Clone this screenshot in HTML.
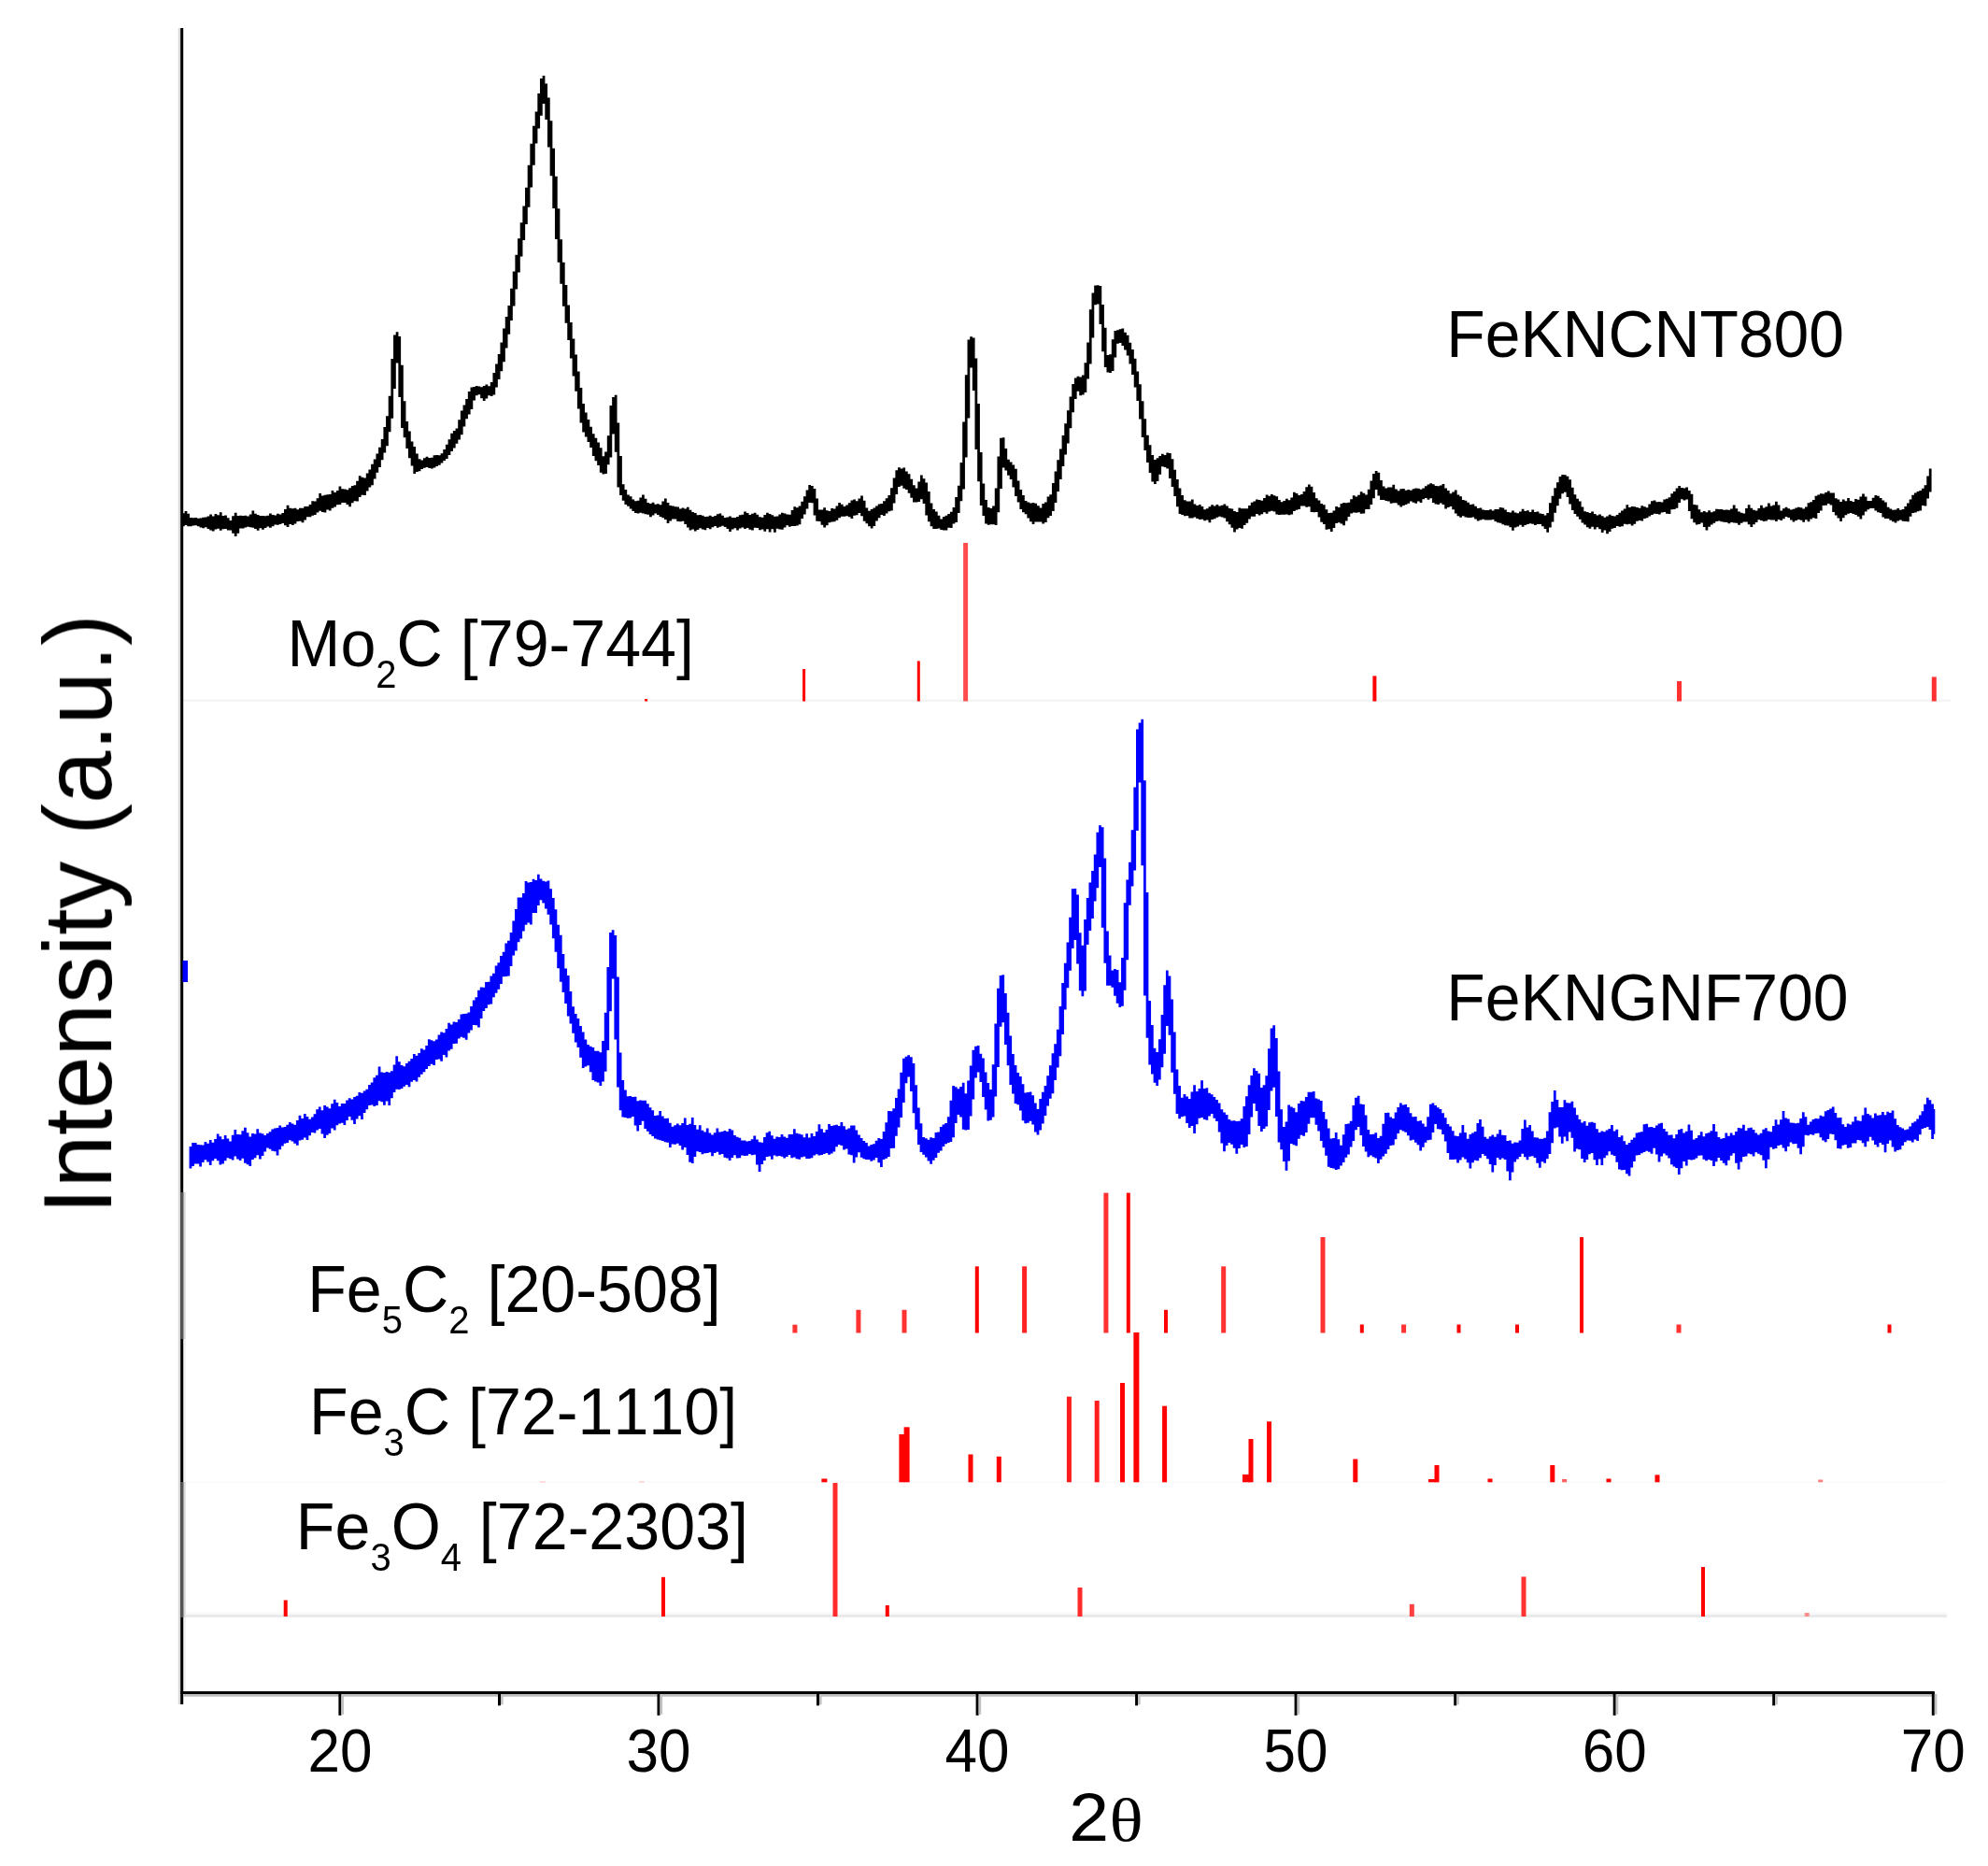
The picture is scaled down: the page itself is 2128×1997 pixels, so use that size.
<!DOCTYPE html>
<html lang="en">
<head>
<meta charset="utf-8">
<title>XRD patterns</title>
<style>
html,body{margin:0;padding:0;background:#ffffff;}
svg{display:block;}
text{font-family:'Liberation Sans', Arial, Helvetica, sans-serif;fill:#000;font-kerning:none;font-feature-settings:'kern' 0,'liga' 0;}
.ser{font-family:'Liberation Serif', 'Times New Roman', Times, serif;}
</style>
</head>
<body>
<svg width="2128" height="1997" viewBox="0 0 2128 1997">
<defs><filter id="soft" x="0" y="0" width="2128" height="1997" filterUnits="userSpaceOnUse"><feGaussianBlur stdDeviation="0.7"/></filter></defs>
<rect x="0" y="0" width="2128" height="1997" fill="#ffffff"/>
<g filter="url(#soft)">

<!-- faint baselines of the reference-pattern panels -->
<rect x="196" y="748.5" width="1892" height="2.5" fill="#f4f4f4"/>
<rect x="196" y="1725.5" width="1888" height="2.5" fill="#f8f8f8"/>
<rect x="196" y="1728" width="1888" height="3" fill="#eaeaea"/>
<rect x="196" y="1585" width="1888" height="2" fill="#fbfbfb"/>
<rect x="578" y="1585" width="6" height="2" fill="#ffdcdc"/>
<rect x="684" y="1585" width="6" height="2" fill="#ffdcdc"/>

<!-- reference sticks -->
<g>
<rect x="690.1" y="748.0" width="3" height="2.5" fill="#ff0000"/>
<rect x="859.1" y="716.0" width="3" height="34.5" fill="#ff0000"/>
<rect x="981.8" y="707.4" width="3" height="43.1" fill="#ff0000"/>
<rect x="1031.1" y="581.0" width="5" height="169.5" fill="#ff4d4d"/>
<rect x="1469.4" y="723.4" width="4" height="27.1" fill="#ff0000"/>
<rect x="1795.0" y="729.0" width="5" height="21.5" fill="#ff3030"/>
<rect x="2067.8" y="724.4" width="5" height="26.1" fill="#ff3030"/>
<rect x="848.4" y="1417.7" width="5" height="8.8" fill="#ff3030"/>
<rect x="916.4" y="1401.8" width="5" height="24.7" fill="#ff3030"/>
<rect x="965.5" y="1401.8" width="5" height="24.7" fill="#ff3030"/>
<rect x="1043.8" y="1355.3" width="4" height="71.2" fill="#ff0000"/>
<rect x="1094.1" y="1355.3" width="5" height="71.2" fill="#ff2020"/>
<rect x="1181.4" y="1276.6" width="5" height="149.9" fill="#ff3030"/>
<rect x="1205.8" y="1276.6" width="4" height="149.9" fill="#ff0000"/>
<rect x="1246.0" y="1401.8" width="4" height="24.7" fill="#ff0000"/>
<rect x="1307.2" y="1355.3" width="5" height="71.2" fill="#ff3030"/>
<rect x="1413.5" y="1324.0" width="5" height="102.5" fill="#ff3030"/>
<rect x="1455.8" y="1417.5" width="4" height="9.0" fill="#ff0000"/>
<rect x="1500.1" y="1417.5" width="5" height="9.0" fill="#ff3030"/>
<rect x="1559.5" y="1417.5" width="4" height="9.0" fill="#ff0000"/>
<rect x="1622.0" y="1417.5" width="4" height="9.0" fill="#ff0000"/>
<rect x="1691.0" y="1324.0" width="4" height="102.5" fill="#ff0000"/>
<rect x="1794.5" y="1417.5" width="5" height="9.0" fill="#ff3030"/>
<rect x="2020.5" y="1417.5" width="4" height="9.0" fill="#ff0000"/>
<rect x="879.4" y="1582.5" width="6" height="3.8" fill="#ff0000"/>
<rect x="962.4" y="1535.0" width="6" height="51.3" fill="#ff0000"/>
<rect x="967.6" y="1527.3" width="6" height="59.0" fill="#ff0000"/>
<rect x="1036.5" y="1556.5" width="5" height="29.8" fill="#ff0000"/>
<rect x="1066.8" y="1558.8" width="5" height="27.5" fill="#ff0000"/>
<rect x="1141.9" y="1494.7" width="5" height="91.6" fill="#ff1a1a"/>
<rect x="1171.7" y="1499.0" width="5" height="87.3" fill="#ff1a1a"/>
<rect x="1199.0" y="1480.0" width="5" height="106.3" fill="#ff0000"/>
<rect x="1213.4" y="1426.0" width="6" height="160.3" fill="#ff0000"/>
<rect x="1244.1" y="1504.7" width="5" height="81.6" fill="#ff0000"/>
<rect x="1330.0" y="1578.0" width="8" height="8.3" fill="#ff0000"/>
<rect x="1336.5" y="1540.0" width="5" height="46.3" fill="#ff0000"/>
<rect x="1356.0" y="1521.3" width="5" height="65.0" fill="#ff0000"/>
<rect x="1448.3" y="1561.5" width="5" height="24.8" fill="#ff0000"/>
<rect x="1535.5" y="1568.0" width="5" height="18.3" fill="#ff0000"/>
<rect x="1529.0" y="1583.0" width="8" height="3.3" fill="#ff0000"/>
<rect x="1592.5" y="1582.5" width="5" height="3.8" fill="#ff0000"/>
<rect x="1659.3" y="1568.0" width="5" height="18.3" fill="#ff0000"/>
<rect x="1672.1" y="1583.0" width="5" height="3.3" fill="#ff6060"/>
<rect x="1719.5" y="1582.5" width="5" height="3.8" fill="#ff0000"/>
<rect x="1771.5" y="1578.4" width="5" height="7.9" fill="#ff0000"/>
<rect x="1946.2" y="1583.5" width="5" height="2.8" fill="#ff8080"/>
<rect x="303.7" y="1712.5" width="4" height="17.5" fill="#ff0000"/>
<rect x="708.0" y="1687.8" width="4" height="42.2" fill="#ff0000"/>
<rect x="891.5" y="1587.0" width="5" height="143.0" fill="#ff2a2a"/>
<rect x="947.8" y="1718.0" width="4" height="12.0" fill="#ff0000"/>
<rect x="1153.5" y="1699.0" width="5" height="31.0" fill="#ff2a2a"/>
<rect x="1508.8" y="1716.8" width="5" height="13.2" fill="#ff4040"/>
<rect x="1628.5" y="1687.4" width="5" height="42.6" fill="#ff3030"/>
<rect x="1821.0" y="1677.0" width="4" height="53.0" fill="#ff0000"/>
<rect x="1931.7" y="1726.0" width="5" height="4.0" fill="#ff9090"/>
</g>

<!-- y axis -->
<rect x="190.8" y="30" width="2.6" height="1794" fill="#d8d8d8"/>
<rect x="196" y="1276" width="2.8" height="157" fill="#dcdcdc"/>
<rect x="196" y="1586" width="2.8" height="145" fill="#dcdcdc"/>
<rect x="196" y="1433" width="2.8" height="153" fill="#f1f1f1"/>
<rect x="196" y="1731" width="2.8" height="79" fill="#f1f1f1"/>
<rect x="193.2" y="30" width="3" height="1794" fill="#000"/>
<rect x="193.2" y="1276" width="3" height="157" fill="#565656"/>
<rect x="193.2" y="1586" width="3" height="145" fill="#565656"/>
<!-- x axis -->
<rect x="196.2" y="1813" width="1875" height="2.7" fill="#bcbcbc"/>
<rect x="193.2" y="1810" width="1877.6" height="3" fill="#000"/>
<rect x="362.4" y="1811" width="3" height="24.8" fill="#000"/><rect x="365.4" y="1813" width="2.6" height="21.8" fill="#c2c2c2"/>
<rect x="703.5" y="1811" width="3" height="24.8" fill="#000"/><rect x="706.5" y="1813" width="2.6" height="21.8" fill="#c2c2c2"/>
<rect x="1044.6" y="1811" width="3" height="24.8" fill="#000"/><rect x="1047.6" y="1813" width="2.6" height="21.8" fill="#c2c2c2"/>
<rect x="1385.6" y="1811" width="3" height="24.8" fill="#000"/><rect x="1388.6" y="1813" width="2.6" height="21.8" fill="#c2c2c2"/>
<rect x="1726.7" y="1811" width="3" height="24.8" fill="#000"/><rect x="1729.7" y="1813" width="2.6" height="21.8" fill="#c2c2c2"/>
<rect x="2067.8" y="1811" width="3" height="24.8" fill="#000"/><rect x="2070.8" y="1813" width="2.6" height="21.8" fill="#c2c2c2"/>
<rect x="533.0" y="1811" width="3" height="14.3" fill="#000"/><rect x="536.0" y="1813" width="2.6" height="11.3" fill="#c2c2c2"/>
<rect x="874.0" y="1811" width="3" height="14.3" fill="#000"/><rect x="877.0" y="1813" width="2.6" height="11.3" fill="#c2c2c2"/>
<rect x="1215.1" y="1811" width="3" height="14.3" fill="#000"/><rect x="1218.1" y="1813" width="2.6" height="11.3" fill="#c2c2c2"/>
<rect x="1556.2" y="1811" width="3" height="14.3" fill="#000"/><rect x="1559.2" y="1813" width="2.6" height="11.3" fill="#c2c2c2"/>
<rect x="1897.2" y="1811" width="3" height="14.3" fill="#000"/><rect x="1900.2" y="1813" width="2.6" height="11.3" fill="#c2c2c2"/>
<text transform="translate(363.9,1896) scale(1,1.04)" font-size="62" text-anchor="middle">20</text>
<text transform="translate(705.0,1896) scale(1,1.04)" font-size="62" text-anchor="middle">30</text>
<text transform="translate(1046.1,1896) scale(1,1.04)" font-size="62" text-anchor="middle">40</text>
<text transform="translate(1387.1,1896) scale(1,1.04)" font-size="62" text-anchor="middle">50</text>
<text transform="translate(1728.2,1896) scale(1,1.04)" font-size="62" text-anchor="middle">60</text>
<text transform="translate(2069.2,1896) scale(1,1.04)" font-size="62" text-anchor="middle">70</text>

<!-- diffraction patterns -->
<path fill="none" stroke="#000" stroke-width="2.75" d="M196.33,549.3V563.3M198.99,546.9V562.1M201.65,549.8V563.2M204.31,554.0V563.3M206.97,554.2V562.4M209.63,553.9V562.2M212.29,554.7V563.2M214.95,554.4V564.6M217.61,553.8V565.3M220.27,553.6V564.2M222.93,552.4V565.9M225.59,550.5V567.6M228.25,552.4V568.4M230.91,550.1V566.5M233.57,551.3V565.8M236.23,548.3V567.7M238.89,551.9V566.3M241.55,551.6V565.9M244.21,554.2V567.5M246.87,556.9V567.5M249.53,552.2V570.7M252.19,548.7V574.1M254.85,552.1V570.7M257.51,551.8V565.6M260.17,552.1V565.4M262.83,551.8V564.4M265.49,552.4V563.7M268.15,550.4V564.2M270.81,546.4V564.7M273.47,549.7V566.0M276.13,550.9V567.8M278.79,552.0V565.3M281.45,552.1V566.7M284.11,552.3V565.1M286.77,551.7V563.4M289.43,549.6V564.8M292.09,551.1V563.2M294.75,551.4V561.6M297.41,549.7V561.8M300.07,550.6V561.0M302.73,549.0V560.1M305.39,545.0V562.3M308.05,540.7V564.1M310.71,543.8V561.1M313.37,544.2V562.0M316.03,543.8V560.4M318.69,545.2V558.0M321.35,543.8V557.8M324.01,543.7V559.2M326.67,541.9V556.6M329.33,542.1V553.3M331.99,540.1V553.2M334.65,536.2V551.8M337.31,536.5V551.0M339.97,533.2V548.6M342.63,528.1V546.8M345.29,530.4V547.9M347.95,529.8V548.4M350.61,529.3V545.4M353.27,528.9V546.6M355.93,525.0V543.7M358.59,527.1V542.4M361.25,524.9V540.3M363.91,520.4V539.9M366.57,523.2V538.0M369.23,523.4V538.0M371.89,524.3V540.1M374.55,522.2V542.2M377.21,520.0V538.2M379.87,519.2V536.2M382.53,514.7V536.5M385.19,509.3V532.0M387.85,510.8V529.8M390.51,511.5V529.9M393.17,506.5V525.4M395.83,502.4V521.4M398.49,496.8V519.2M401.15,491.5V512.4M403.81,485.5V505.8M406.47,478.7V499.9M409.13,470.0V492.3M411.79,457.0V484.6M414.45,445.2V477.2M417.11,423.7V462.2M419.77,384.0V447.8M422.43,358.5V416.0M425.09,355.2V388.5M427.75,359.9V425.0M430.41,390.7V457.9M433.07,429.2V468.3M435.73,451.0V480.1M438.39,461.6V490.2M441.05,472.4V498.6M443.71,478.1V506.9M446.37,485.5V504.9M449.03,491.2V504.2M451.69,492.4V501.9M454.35,490.3V500.8M457.01,488.8V499.9M459.67,489.9V500.9M462.33,489.7V501.5M464.99,487.3V500.4M467.65,487.1V499.1M470.31,487.3V497.8M472.97,485.3V495.4M475.63,480.9V493.1M478.29,475.7V491.1M480.95,470.3V487.0M483.61,463.8V483.1M486.27,461.1V479.5M488.93,458.4V474.7M491.59,449.3V470.5M494.25,439.4V465.2M496.91,433.4V456.5M499.57,427.0V448.2M502.23,419.1V443.5M504.89,414.6V438.1M507.55,414.0V428.5M510.21,413.1V423.2M512.87,413.5V422.2M515.53,414.3V426.2M518.19,413.0V429.1M520.85,411.4V426.4M523.51,413.2V423.3M526.17,409.0V424.0M528.83,399.0V422.6M531.49,389.4V414.6M534.15,379.1V406.0M536.81,366.6V397.3M539.47,351.4V387.3M542.13,338.9V372.6M544.79,326.9V357.7M547.45,308.8V342.9M550.11,290.6V327.5M552.77,272.7V309.6M555.43,255.3V291.6M558.09,238.2V274.4M560.75,220.5V256.9M563.41,200.7V240.1M566.07,176.8V221.8M568.73,153.8V200.5M571.39,134.7V176.8M574.05,119.5V153.6M576.71,100.1V137.4M579.37,84.1V123.7M582.03,81.0V110.9M584.69,89.6V128.1M587.35,104.6V157.6M590.01,129.2V188.3M592.67,158.8V222.9M595.33,188.7V256.0M597.99,223.3V280.7M600.65,256.2V303.8M603.31,280.7V327.7M605.97,304.9V345.7M608.63,326.6V364.1M611.29,345.1V383.5M613.95,362.6V402.5M616.61,379.4V418.7M619.27,397.4V437.6M621.93,415.0V452.6M624.59,432.0V462.5M627.25,441.4V467.4M629.91,449.0V472.9M632.57,456.8V479.0M635.23,464.2V488.0M637.89,468.7V493.2M640.55,473.6V497.9M643.21,479.3V505.8M645.87,488.2V507.6M648.53,483.6V507.0M651.19,466.2V497.3M653.85,434.0V489.5M656.51,425.0V464.5M659.17,422.8V483.8M661.83,452.4V521.4M664.49,488.0V530.1M667.15,518.3V535.8M669.81,524.1V540.0M672.47,529.6V541.7M675.13,531.3V544.5M677.79,534.4V546.9M680.45,536.2V548.9M683.11,535.7V549.6M685.77,532.5V548.8M688.43,529.4V549.5M691.09,533.7V550.3M693.75,538.1V550.8M696.41,538.9V553.3M699.07,537.8V551.5M701.73,539.7V549.4M704.39,539.2V551.0M707.05,540.3V553.0M709.71,536.6V554.3M712.37,533.6V556.1M715.03,537.9V560.0M717.69,541.1V557.4M720.35,541.6V555.5M723.01,542.3V555.6M725.67,542.5V557.9M728.33,544.6V558.3M730.99,543.4V557.7M733.65,544.5V561.0M736.31,542.7V564.6M738.97,545.7V567.4M741.63,548.0V566.5M744.29,548.9V568.6M746.95,551.3V567.0M749.61,551.1V565.2M752.27,551.8V566.5M754.93,553.0V567.3M757.59,552.8V565.1M760.25,551.7V566.2M762.91,553.1V564.2M765.57,552.0V563.1M768.23,550.3V564.8M770.89,549.4V563.7M773.55,551.7V562.8M776.21,553.9V564.0M778.87,553.4V566.1M781.53,552.6V569.0M784.19,554.0V566.4M786.85,553.9V565.3M789.51,553.1V567.6M792.17,551.2V565.4M794.83,550.7V564.4M797.49,547.5V565.9M800.15,548.9V565.1M802.81,551.1V566.8M805.47,549.7V567.4M808.13,548.7V564.8M810.79,550.8V564.9M813.45,553.2V567.3M816.11,553.8V566.5M818.77,551.0V568.8M821.43,548.8V566.2M824.09,550.0V569.5M826.75,551.3V566.2M829.41,552.8V569.8M832.07,552.5V565.8M834.73,550.5V566.4M837.39,548.7V566.8M840.05,549.6V564.6M842.71,550.4V562.3M845.37,550.7V563.7M848.03,546.1V563.1M850.69,542.3V563.0M853.35,543.3V562.5M856.01,541.4V561.3M858.67,536.8V555.0M861.33,531.2V550.6M863.99,524.6V544.6M866.65,519.1V537.9M869.31,520.0V538.2M871.97,523.1V551.6M874.63,533.4V557.8M877.29,545.6V558.1M879.95,545.5V561.7M882.61,543.3V564.6M885.27,546.2V562.3M887.93,547.1V559.3M890.59,544.1V558.5M893.25,544.4V558.3M895.91,541.5V556.8M898.57,537.9V554.2M901.23,539.8V552.8M903.89,541.9V552.8M906.55,540.6V552.2M909.21,538.3V553.3M911.87,535.5V555.0M914.53,534.6V551.8M917.19,536.3V551.2M919.85,533.4V549.0M922.51,530.4V552.3M925.17,535.7V557.7M927.83,543.5V560.2M930.49,546.8V563.3M933.15,545.0V565.6M935.81,543.4V562.9M938.47,541.5V557.4M941.13,539.5V554.2M943.79,539.0V550.9M946.45,536.3V552.1M949.11,533.3V549.5M951.77,530.1V547.2M954.43,522.3V546.5M957.09,511.6V538.5M959.75,503.3V528.9M962.41,500.2V521.1M965.07,501.4V519.7M967.73,500.4V522.8M970.39,504.5V524.0M973.05,507.3V527.7M975.71,512.7V532.7M978.37,519.2V537.5M981.03,522.6V537.5M983.69,515.6V536.9M986.35,508.4V534.2M989.01,512.2V539.1M991.67,516.4V551.5M994.33,526.1V558.2M996.99,538.6V563.3M999.65,544.9V565.9M1002.31,547.5V566.0M1004.97,551.7V565.6M1007.63,555.5V567.0M1010.29,553.0V567.6M1012.95,551.7V567.6M1015.61,549.9V564.8M1018.27,547.8V565.0M1020.93,543.0V560.4M1023.59,532.0V558.9M1026.25,519.8V549.1M1028.91,494.9V536.3M1031.57,451.5V523.6M1034.23,401.3V489.4M1036.89,363.4V447.4M1039.55,360.2V393.6M1042.21,361.6V418.0M1044.87,383.4V480.9M1047.53,432.0V515.2M1050.19,483.9V541.0M1052.85,517.4V551.9M1055.51,534.9V560.6M1058.17,543.0V561.8M1060.83,544.1V561.3M1063.49,541.6V561.2M1066.15,522.4V562.1M1068.81,488.5V548.2M1071.47,468.8V523.1M1074.13,468.3V500.5M1076.79,480.1V503.6M1079.45,491.8V508.8M1082.11,494.4V513.0M1084.77,497.4V521.4M1087.43,501.7V531.0M1090.09,514.5V537.6M1092.75,524.0V545.1M1095.41,530.1V548.2M1098.07,536.1V550.2M1100.73,537.6V554.4M1103.39,538.5V558.2M1106.05,538.1V561.1M1108.71,538.8V558.6M1111.37,541.2V558.6M1114.03,543.6V558.5M1116.69,538.9V560.6M1119.35,537.5V559.1M1122.01,531.4V554.2M1124.67,529.3V552.0M1127.33,516.9V546.9M1129.99,504.6V538.1M1132.65,492.2V526.1M1135.31,480.4V513.0M1137.97,466.0V499.1M1140.63,453.2V486.6M1143.29,439.3V474.6M1145.95,424.4V458.3M1148.61,411.0V441.3M1151.27,404.6V426.9M1153.93,402.7V418.7M1156.59,403.6V423.2M1159.25,401.4V422.5M1161.91,388.2V420.1M1164.57,366.6V405.6M1167.23,331.3V389.5M1169.89,313.5V361.5M1172.55,305.4V326.2M1175.21,305.3V325.5M1177.87,306.1V346.9M1180.53,325.9V376.3M1183.19,350.8V392.9M1185.85,380.0V398.6M1188.51,379.2V399.1M1191.17,363.3V397.0M1193.83,353.9V382.4M1196.49,353.2V367.7M1199.15,352.3V367.1M1201.81,351.6V370.0M1204.47,355.7V374.5M1207.13,358.7V380.4M1209.79,366.8V389.6M1212.45,374.1V401.1M1215.11,383.7V414.4M1217.77,397.6V429.1M1220.43,411.3V448.4M1223.09,429.3V468.0M1225.75,448.2V482.0M1228.41,465.7V495.1M1231.07,476.2V506.0M1233.73,487.0V515.4M1236.39,492.1V517.9M1239.05,490.2V514.9M1241.71,488.0V507.7M1244.37,485.7V499.2M1247.03,486.9V500.0M1249.69,484.4V501.4M1252.35,484.9V512.0M1255.01,491.3V521.1M1257.67,502.8V531.1M1260.33,513.0V542.3M1262.99,522.5V549.9M1265.65,529.9V551.1M1268.31,535.3V552.3M1270.97,536.4V552.0M1273.63,536.4V554.5M1276.29,534.6V554.6M1278.95,539.4V553.4M1281.61,541.0V554.9M1284.27,540.0V556.1M1286.93,541.9V555.8M1289.59,545.2V557.3M1292.25,544.2V556.6M1294.91,542.2V559.3M1297.57,540.3V555.9M1300.23,541.6V555.3M1302.89,540.1V553.7M1305.55,541.5V552.7M1308.21,540.8V553.5M1310.87,539.5V554.5M1313.53,541.4V558.3M1316.19,543.9V561.3M1318.85,544.6V564.8M1321.51,547.0V569.6M1324.17,547.9V566.4M1326.83,543.4V564.9M1329.49,544.2V565.8M1332.15,544.3V562.0M1334.81,544.2V559.7M1337.47,541.0V555.6M1340.13,537.7V552.8M1342.79,536.6V552.8M1345.45,534.5V549.9M1348.11,535.0V551.4M1350.77,535.7V550.2M1353.43,533.0V548.2M1356.09,529.5V549.7M1358.75,530.7V547.4M1361.41,529.0V546.8M1364.07,530.2V547.4M1366.73,531.3V550.4M1369.39,535.0V551.0M1372.05,537.3V550.7M1374.71,536.0V550.8M1377.37,533.8V550.6M1380.03,535.2V551.2M1382.69,532.4V550.4M1385.35,526.7V547.0M1388.01,527.9V545.7M1390.67,530.1V545.1M1393.33,529.0V541.6M1395.99,526.1V541.6M1398.65,521.2V542.7M1401.31,518.5V542.3M1403.97,520.7V548.0M1406.63,527.1V548.3M1409.29,533.2V548.1M1411.95,535.4V553.5M1414.61,539.1V558.8M1417.27,540.3V560.9M1419.93,545.3V566.8M1422.59,548.9V566.2M1425.25,548.8V569.1M1427.91,546.6V565.0M1430.57,542.0V559.9M1433.23,542.9V559.2M1435.89,539.0V560.6M1438.55,538.0V562.2M1441.21,538.2V557.6M1443.87,537.8V553.1M1446.53,534.3V549.5M1449.19,530.3V548.4M1451.85,531.5V548.7M1454.51,529.8V548.3M1457.17,526.2V549.8M1459.83,527.8V549.5M1462.49,529.6V544.9M1465.15,523.7V544.9M1467.81,514.6V540.1M1470.47,506.9V533.3M1473.13,504.1V524.0M1475.79,505.7V530.6M1478.45,514.0V534.9M1481.11,520.6V534.9M1483.77,522.6V536.0M1486.43,521.5V536.4M1489.09,521.4V538.8M1491.75,518.8V538.3M1494.41,523.4V538.3M1497.07,525.2V540.5M1499.73,523.2V542.6M1502.39,522.9V540.9M1505.05,524.8V540.0M1507.71,524.0V538.7M1510.37,524.7V536.6M1513.03,523.2V537.7M1515.69,522.6V538.8M1518.35,522.7V536.5M1521.01,523.8V538.1M1523.67,522.5V534.3M1526.33,520.2V533.1M1528.99,518.4V534.7M1531.65,517.3V533.3M1534.31,518.2V537.9M1536.97,519.9V539.6M1539.63,520.2V539.9M1542.29,519.6V538.4M1544.95,517.9V540.0M1547.61,522.5V544.6M1550.27,525.0V542.9M1552.93,528.2V542.0M1555.59,526.4V545.3M1558.25,524.6V549.4M1560.91,529.5V552.3M1563.57,531.3V553.7M1566.23,535.0V552.2M1568.89,535.7V553.6M1571.55,537.7V554.0M1574.21,540.0V554.0M1576.87,539.5V553.5M1579.53,541.7V555.4M1582.19,543.9V557.6M1584.85,543.4V556.4M1587.51,545.4V555.7M1590.17,546.0V556.4M1592.83,545.9V556.5M1595.49,545.2V556.4M1598.15,546.5V556.1M1600.81,545.0V557.9M1603.47,545.0V559.3M1606.13,543.0V559.7M1608.79,543.5V561.3M1611.45,545.4V562.3M1614.11,548.0V562.6M1616.77,548.5V564.2M1619.43,546.4V567.8M1622.09,548.6V564.4M1624.75,549.3V563.6M1627.41,547.4V561.7M1630.07,544.7V563.8M1632.73,546.9V562.1M1635.39,546.3V560.9M1638.05,548.1V560.3M1640.71,545.4V560.7M1643.37,548.0V562.0M1646.03,547.6V560.9M1648.69,549.5V561.1M1651.35,550.1V563.3M1654.01,551.6V566.0M1656.67,549.1V569.8M1659.33,538.3V564.4M1661.99,530.8V558.6M1664.65,522.3V548.8M1667.31,516.3V541.3M1669.97,509.9V533.8M1672.63,507.9V528.2M1675.29,508.2V526.7M1677.95,509.7V531.9M1680.61,513.3V539.4M1683.27,521.7V545.9M1685.93,529.2V550.1M1688.59,533.8V552.7M1691.25,536.4V555.8M1693.91,542.5V559.4M1696.57,547.2V561.5M1699.23,548.1V564.3M1701.89,549.0V565.8M1704.55,547.6V563.7M1707.21,550.0V566.4M1709.87,551.5V564.2M1712.53,550.4V566.2M1715.19,552.2V569.9M1717.85,553.7V567.4M1720.51,552.5V571.3M1723.17,550.7V569.0M1725.83,551.9V565.8M1728.49,552.6V565.1M1731.15,550.9V563.0M1733.81,548.7V563.7M1736.47,546.4V563.3M1739.13,544.6V560.8M1741.79,540.2V561.3M1744.45,543.1V560.8M1747.11,542.1V562.5M1749.77,542.3V560.7M1752.43,543.1V557.8M1755.09,543.8V557.1M1757.75,541.2V557.6M1760.41,542.3V555.0M1763.07,543.2V554.2M1765.73,539.5V552.5M1768.39,536.3V550.9M1771.05,535.4V549.8M1773.71,537.2V550.1M1776.37,536.9V550.6M1779.03,537.6V548.6M1781.69,534.6V548.0M1784.35,533.8V549.7M1787.01,532.3V550.1M1789.67,528.2V545.2M1792.33,525.9V544.9M1794.99,522.5V543.8M1797.65,519.9V538.1M1800.31,522.1V534.2M1802.97,522.5V535.4M1805.63,521.5V534.5M1808.29,525.0V547.0M1810.95,528.8V555.2M1813.61,540.1V559.3M1816.27,540.6V561.4M1818.93,545.3V560.9M1821.59,548.2V559.5M1824.25,546.9V563.9M1826.91,548.3V567.6M1829.57,546.3V563.8M1832.23,548.2V561.5M1834.89,547.2V559.8M1837.55,544.8V557.9M1840.21,545.1V557.6M1842.87,545.0V558.2M1845.53,545.7V558.7M1848.19,545.6V558.9M1850.85,545.7V560.2M1853.51,544.4V559.1M1856.17,540.6V559.4M1858.83,544.3V559.8M1861.49,547.4V561.7M1864.15,548.7V559.7M1866.81,549.5V558.5M1869.47,544.1V558.4M1872.13,540.3V561.2M1874.79,543.8V563.9M1877.45,545.7V561.2M1880.11,546.6V558.9M1882.77,544.1V556.3M1885.43,540.8V557.0M1888.09,543.4V558.0M1890.75,542.2V557.6M1893.41,538.5V556.0M1896.07,541.5V556.4M1898.73,540.6V556.4M1901.39,536.7V557.9M1904.05,540.4V555.9M1906.71,546.6V556.9M1909.37,544.3V555.2M1912.03,542.7V552.9M1914.69,544.2V553.9M1917.35,545.6V556.4M1920.01,544.8V558.6M1922.67,543.5V557.0M1925.33,542.8V556.0M1927.99,543.3V556.8M1930.65,544.4V558.7M1933.31,542.4V556.2M1935.97,538.3V558.3M1938.63,537.2V555.6M1941.29,535.0V554.2M1943.95,530.8V555.0M1946.61,529.4V549.0M1949.27,528.3V546.6M1951.93,528.4V541.1M1954.59,527.1V540.7M1957.25,525.6V538.9M1959.91,527.4V540.6M1962.57,527.5V548.1M1965.23,533.3V551.6M1967.89,534.6V554.5M1970.55,536.9V557.9M1973.21,534.6V554.2M1975.87,536.3V551.3M1978.53,533.1V549.7M1981.19,535.9V549.1M1983.85,537.0V550.1M1986.51,534.1V551.0M1989.17,534.8V552.7M1991.83,531.4V555.6M1994.49,528.5V551.5M1997.15,531.5V547.4M1999.81,536.0V545.2M2002.47,536.0V544.0M2005.13,532.8V544.1M2007.79,530.0V546.4M2010.45,530.7V548.3M2013.11,532.9V549.1M2015.77,535.5V553.5M2018.43,537.6V555.1M2021.09,542.7V555.1M2023.75,544.4V556.8M2026.41,545.7V558.3M2029.07,545.4V559.5M2031.73,544.1V557.4M2034.39,545.7V556.4M2037.05,545.1V557.8M2039.71,542.1V558.1M2042.37,538.6V558.2M2045.03,534.4V552.8M2047.69,529.7V548.9M2050.35,527.4V548.4M2053.01,526.0V547.3M2055.67,525.1V546.6M2058.33,522.7V541.0M2060.99,519.2V541.4M2063.65,509.6V533.6M2066.19,501.4V526.5"/>
<rect x="195.5" y="1028" width="5.5" height="23" fill="#0000ff"/>
<path fill="none" stroke="#0000ff" stroke-width="2.75" d="M203.93,1227.0V1250.6M206.59,1223.1V1247.9M209.25,1223.0V1245.6M211.91,1225.1V1245.5M214.57,1225.3V1248.5M217.23,1225.4V1244.0M219.89,1222.0V1241.2M222.55,1223.7V1243.4M225.21,1220.0V1247.0M227.87,1222.7V1242.3M230.53,1218.9V1240.1M233.19,1213.5V1242.3M235.85,1216.3V1246.6M238.51,1219.2V1245.4M241.17,1215.0V1242.3M243.83,1218.6V1239.2M246.49,1221.4V1240.2M249.15,1214.7V1241.6M251.81,1208.9V1237.5M254.47,1214.1V1240.5M257.13,1214.3V1242.1M259.79,1210.2V1239.7M262.45,1206.7V1244.8M265.11,1212.3V1246.3M267.77,1216.6V1248.0M270.43,1213.0V1241.0M273.09,1213.4V1239.3M275.75,1208.2V1236.3M278.41,1212.5V1240.6M281.07,1213.3V1236.9M283.73,1214.9V1232.6M286.39,1213.1V1228.4M289.05,1211.2V1229.8M291.71,1208.5V1231.7M294.37,1207.6V1232.2M297.03,1207.1V1236.5M299.69,1204.6V1230.2M302.35,1206.4V1226.6M305.01,1205.9V1223.7M307.67,1203.7V1223.1M310.33,1200.9V1220.3M312.99,1202.6V1221.4M315.65,1203.8V1223.7M318.31,1198.9V1225.7M320.97,1193.7V1220.4M323.63,1196.9V1219.7M326.29,1191.9V1217.4M328.95,1195.1V1220.0M331.61,1197.8V1215.3M334.27,1195.4V1211.9M336.93,1192.3V1212.4M339.59,1187.3V1209.5M342.25,1184.6V1208.1M344.91,1188.2V1213.6M347.57,1183.0V1217.9M350.23,1184.6V1214.7M352.89,1186.2V1213.1M355.55,1181.2V1207.4M358.21,1176.7V1209.6M360.87,1180.1V1204.2M363.53,1184.1V1202.6M366.19,1181.0V1201.7M368.85,1181.1V1204.0M371.51,1177.5V1198.9M374.17,1175.3V1194.9M376.83,1176.5V1198.8M379.49,1173.9V1202.9M382.15,1172.7V1197.5M384.81,1169.1V1194.2M387.47,1169.8V1198.0M390.13,1167.4V1191.1M392.79,1165.7V1187.2M395.45,1160.9V1182.9M398.11,1158.6V1182.4M400.77,1153.3V1184.1M403.43,1150.8V1182.9M406.09,1141.6V1178.2M408.75,1147.6V1179.3M411.41,1148.0V1182.7M414.07,1147.1V1178.4M416.73,1147.8V1183.0M419.39,1146.2V1175.2M422.05,1139.5V1169.0M424.71,1130.2V1165.7M427.37,1136.3V1166.1M430.03,1140.0V1165.1M432.69,1141.3V1162.8M435.35,1138.1V1161.1M438.01,1135.7V1163.3M440.67,1133.1V1157.8M443.33,1128.1V1156.0M445.99,1129.7V1157.5M448.65,1127.1V1152.7M451.31,1122.2V1149.8M453.97,1123.4V1147.3M456.63,1119.1V1144.1M459.29,1112.2V1141.1M461.95,1113.3V1138.8M464.61,1114.2V1140.0M467.27,1112.6V1134.0M469.93,1107.4V1133.5M472.59,1104.4V1135.8M475.25,1105.2V1129.0M477.91,1101.1V1131.4M480.57,1094.7V1124.4M483.23,1096.5V1122.7M485.89,1093.4V1117.0M488.55,1094.0V1116.8M491.21,1091.0V1111.6M493.87,1085.4V1109.8M496.53,1085.1V1110.7M499.19,1084.7V1112.8M501.85,1083.6V1105.6M504.51,1077.1V1102.4M507.17,1070.6V1097.0M509.83,1067.3V1097.3M512.49,1059.7V1099.5M515.15,1056.4V1090.0M517.81,1056.7V1082.0M520.47,1051.1V1079.0M523.13,1050.7V1075.2M525.79,1044.4V1074.6M528.45,1041.7V1067.2M531.11,1033.6V1062.8M533.77,1030.2V1058.7M536.43,1022.9V1053.1M539.09,1018.8V1045.3M541.75,1009.5V1044.9M544.41,1006.7V1044.5M547.07,997.9V1034.1M549.73,985.5V1022.6M552.39,972.9V1017.4M555.05,960.5V1008.3M557.71,960.4V1004.4M560.37,956.1V996.6M563.03,942.9V989.7M565.69,944.5V987.5M568.35,944.0V989.5M571.01,940.8V976.9M573.67,942.0V976.9M576.33,935.7V969.1M578.99,940.5V963.3M581.65,942.8V966.4M584.31,943.6V972.4M586.97,942.4V978.8M589.63,951.3V989.5M592.29,961.1V1004.3M594.95,973.3V1018.8M597.61,989.7V1036.3M600.27,1000.7V1050.7M602.93,1020.9V1062.0M605.59,1036.4V1074.0M608.25,1044.0V1087.4M610.91,1060.9V1095.4M613.57,1077.3V1105.7M616.23,1085.0V1115.4M618.89,1090.0V1121.0M621.55,1097.9V1131.7M624.21,1104.5V1142.9M626.87,1112.5V1141.5M629.53,1117.9V1140.2M632.19,1119.7V1147.3M634.85,1121.1V1156.0M637.51,1124.8V1157.6M640.17,1124.7V1158.4M642.83,1126.2V1162.1M645.49,1113.9V1157.5M648.15,1083.8V1146.7M650.81,1035.0V1124.0M653.47,998.0V1082.2M656.13,995.2V1047.6M658.79,1001.1V1112.4M661.45,1045.6V1163.6M664.11,1126.5V1188.3M666.77,1156.0V1195.6M669.43,1166.5V1195.9M672.09,1173.3V1196.8M674.75,1173.0V1196.5M677.41,1173.9V1195.1M680.07,1173.8V1204.4M682.73,1178.2V1210.5M685.39,1177.5V1204.0M688.05,1177.8V1199.7M690.71,1177.7V1207.9M693.37,1181.3V1210.7M696.03,1185.2V1214.0M698.69,1188.3V1216.1M701.35,1194.0V1218.4M704.01,1193.4V1219.6M706.67,1189.1V1220.2M709.33,1194.6V1221.0M711.99,1197.1V1222.3M714.65,1196.7V1222.7M717.31,1201.7V1227.9M719.97,1205.7V1224.6M722.63,1204.2V1224.8M725.29,1202.6V1223.7M727.95,1204.2V1226.1M730.61,1202.0V1230.5M733.27,1196.6V1227.9M735.93,1203.9V1236.1M738.59,1202.7V1243.8M741.25,1196.0V1244.9M743.91,1203.9V1237.9M746.57,1208.8V1232.3M749.23,1204.2V1233.1M751.89,1209.7V1235.3M754.55,1211.5V1234.2M757.21,1207.4V1234.0M759.87,1212.4V1233.3M762.53,1214.4V1237.2M765.19,1212.2V1234.1M767.85,1207.6V1232.7M770.51,1211.4V1235.8M773.17,1211.1V1235.0M775.83,1209.9V1238.8M778.49,1211.0V1239.4M781.15,1208.0V1242.0M783.81,1209.4V1238.9M786.47,1214.9V1236.3M789.13,1216.7V1239.6M791.79,1217.7V1239.2M794.45,1220.6V1236.4M797.11,1220.4V1236.9M799.77,1221.6V1236.7M802.43,1221.0V1235.0M805.09,1219.2V1236.3M807.75,1215.6V1235.8M810.41,1219.6V1246.4M813.07,1222.2V1253.9M815.73,1222.7V1246.0M818.39,1217.1V1242.0M821.05,1212.3V1237.9M823.71,1210.8V1237.4M826.37,1215.3V1240.7M829.03,1218.8V1236.6M831.69,1216.6V1237.6M834.35,1217.0V1237.1M837.01,1214.0V1237.7M839.67,1216.6V1239.6M842.33,1217.8V1238.0M844.99,1214.0V1236.1M847.65,1214.1V1239.3M850.31,1208.3V1238.6M852.97,1212.7V1240.3M855.63,1213.6V1240.7M858.29,1214.2V1238.4M860.95,1217.3V1237.8M863.61,1213.2V1240.1M866.27,1217.6V1239.9M868.93,1212.9V1239.3M871.59,1215.9V1236.4M874.25,1211.0V1235.3M876.91,1203.2V1236.5M879.57,1208.3V1236.1M882.23,1212.1V1234.9M884.89,1209.1V1233.9M887.55,1203.0V1235.8M890.21,1205.0V1234.4M892.87,1204.2V1232.5M895.53,1203.8V1227.3M898.19,1205.0V1225.1M900.85,1201.0V1225.9M903.51,1205.3V1230.6M906.17,1208.8V1229.6M908.83,1207.6V1235.4M911.49,1204.6V1236.2M914.15,1204.6V1244.6M916.81,1209.4V1238.4M919.47,1214.6V1233.2M922.13,1217.9V1238.7M924.79,1221.0V1240.2M927.45,1223.0V1241.0M930.11,1226.4V1240.9M932.77,1224.9V1242.7M935.43,1224.2V1241.6M938.09,1220.8V1238.9M940.75,1217.9V1244.2M943.41,1219.0V1249.0M946.07,1210.9V1241.0M948.73,1201.2V1239.8M951.39,1188.9V1238.1M954.05,1189.2V1228.9M956.71,1186.2V1228.8M959.37,1174.9V1215.8M962.03,1165.4V1206.6M964.69,1147.8V1195.9M967.35,1132.8V1179.9M970.01,1130.7V1159.2M972.67,1129.2V1152.5M975.33,1131.3V1168.1M977.99,1138.1V1191.3M980.65,1161.2V1208.7M983.31,1185.4V1224.9M985.97,1202.2V1233.0M988.63,1217.0V1235.8M991.29,1218.3V1238.6M993.95,1219.8V1242.6M996.61,1217.2V1245.7M999.27,1218.0V1241.7M1001.93,1211.9V1239.1M1004.59,1211.6V1233.7M1007.25,1206.1V1231.5M1009.91,1203.5V1227.0M1012.57,1202.0V1224.3M1015.23,1195.3V1223.1M1017.89,1177.7V1221.9M1020.55,1162.1V1217.2M1023.21,1163.2V1202.0M1025.87,1165.2V1192.9M1028.53,1163.1V1195.4M1031.19,1158.7V1208.8M1033.85,1170.2V1209.6M1036.51,1156.4V1209.0M1039.17,1140.5V1194.6M1041.83,1123.7V1176.4M1044.49,1119.7V1153.5M1047.15,1119.0V1147.5M1049.81,1127.7V1158.1M1052.47,1132.5V1173.9M1055.13,1147.4V1187.5M1057.79,1159.1V1199.6M1060.45,1165.9V1198.8M1063.11,1139.2V1195.5M1065.77,1095.5V1173.6M1068.43,1057.7V1142.0M1071.09,1043.9V1098.7M1073.75,1043.2V1094.2M1076.41,1063.0V1118.1M1079.07,1083.8V1140.2M1081.73,1108.6V1161.0M1084.39,1127.9V1170.6M1087.05,1140.0V1181.0M1089.71,1148.1V1182.2M1092.37,1151.9V1188.5M1095.03,1160.2V1199.3M1097.69,1169.5V1202.3M1100.35,1169.0V1201.7M1103.01,1168.4V1199.8M1105.67,1172.3V1203.6M1108.33,1180.5V1211.5M1110.99,1187.0V1214.4M1113.65,1176.0V1209.6M1116.31,1168.8V1202.6M1118.97,1161.9V1194.0M1121.63,1151.2V1183.6M1124.29,1140.3V1175.7M1126.95,1127.3V1170.2M1129.61,1117.2V1155.9M1132.27,1101.8V1142.6M1134.93,1077.0V1130.2M1137.59,1052.0V1107.1M1140.25,1030.7V1080.5M1142.91,1008.5V1057.3M1145.57,981.7V1038.7M1148.23,951.3V1014.9M1150.89,951.1V1005.9M1153.55,957.4V1031.5M1156.21,998.2V1060.2M1158.87,1011.8V1066.2M1161.53,984.0V1060.6M1164.19,961.1V1011.0M1166.85,944.6V996.0M1169.51,932.0V983.1M1172.17,914.6V964.5M1174.83,890.7V950.2M1177.49,883.2V928.1M1180.15,885.2V992.8M1182.81,918.5V1030.7M1185.47,996.4V1054.8M1188.13,1022.6V1054.7M1190.79,1038.6V1056.7M1193.45,1036.9V1065.7M1196.11,1038.0V1073.8M1198.77,1051.3V1078.1M1201.43,1025.1V1076.8M1204.09,966.2V1059.7M1206.75,941.4V1027.2M1209.41,922.7V968.7M1212.07,888.3V948.5M1214.73,842.4V931.4M1217.39,780.6V889.1M1220.05,773.6V837.5M1222.71,769.7V926.3M1225.37,835.2V1065.6M1228.03,955.0V1110.7M1230.69,1070.9V1139.6M1233.35,1097.0V1149.4M1236.01,1121.7V1158.7M1238.67,1126.1V1161.9M1241.33,1112.2V1155.4M1243.99,1085.9V1142.3M1246.65,1054.3V1127.7M1249.31,1038.6V1098.1M1251.97,1044.5V1107.7M1254.63,1069.6V1147.8M1257.29,1104.5V1170.7M1259.95,1144.5V1191.9M1262.61,1161.9V1197.2M1265.27,1174.7V1195.3M1267.93,1171.0V1194.5M1270.59,1173.5V1201.9M1273.25,1176.0V1207.1M1275.91,1168.5V1204.9M1278.57,1161.3V1212.9M1281.23,1168.1V1203.3M1283.89,1164.9V1196.7M1286.55,1156.3V1195.9M1289.21,1164.9V1198.1M1291.87,1164.3V1198.8M1294.53,1169.8V1194.5M1297.19,1171.3V1192.1M1299.85,1174.1V1196.7M1302.51,1176.9V1200.0M1305.17,1180.5V1211.4M1307.83,1187.2V1223.5M1310.49,1190.5V1232.3M1313.15,1193.1V1226.0M1315.81,1198.1V1223.1M1318.47,1199.4V1224.7M1321.13,1199.3V1228.8M1323.79,1199.9V1234.7M1326.45,1199.7V1228.9M1329.11,1197.2V1224.9M1331.77,1184.0V1228.0M1334.43,1173.3V1227.0M1337.09,1161.2V1214.0M1339.75,1151.0V1195.4M1342.41,1143.2V1181.0M1345.07,1146.1V1189.0M1347.73,1148.7V1205.0M1350.39,1164.1V1211.1M1353.05,1161.2V1208.0M1355.71,1151.2V1205.6M1358.37,1122.3V1188.1M1361.03,1100.5V1167.4M1363.69,1097.3V1163.8M1366.35,1111.1V1195.1M1369.01,1146.4V1222.5M1371.67,1187.2V1230.3M1374.33,1206.0V1243.1M1376.99,1200.6V1252.8M1379.65,1182.5V1242.6M1382.31,1184.6V1223.9M1384.97,1185.7V1225.2M1387.63,1190.3V1226.3M1390.29,1180.9V1218.8M1392.95,1177.9V1214.8M1395.61,1178.4V1215.8M1398.27,1174.0V1212.1M1400.93,1168.8V1202.7M1403.59,1168.7V1196.2M1406.25,1167.9V1196.3M1408.91,1175.6V1203.7M1411.57,1176.6V1210.6M1414.23,1177.9V1221.1M1416.89,1189.9V1228.2M1419.55,1197.8V1236.8M1422.21,1207.4V1248.7M1424.87,1218.6V1250.0M1427.53,1217.9V1250.5M1430.19,1211.9V1252.0M1432.85,1219.2V1251.3M1435.51,1225.7V1247.6M1438.17,1214.2V1243.9M1440.83,1202.9V1238.8M1443.49,1202.6V1235.4M1446.15,1199.7V1227.6M1448.81,1182.9V1221.1M1451.47,1174.8V1209.3M1454.13,1172.7V1205.9M1456.79,1181.5V1215.0M1459.45,1181.9V1227.1M1462.11,1193.6V1232.5M1464.77,1209.0V1238.3M1467.43,1214.0V1236.5M1470.09,1213.7V1238.3M1472.75,1212.2V1239.5M1475.41,1218.1V1245.0M1478.07,1215.8V1240.8M1480.73,1202.8V1237.5M1483.39,1191.0V1234.7M1486.05,1190.8V1230.0M1488.71,1195.4V1225.9M1491.37,1197.1V1225.4M1494.03,1190.6V1219.2M1496.69,1185.0V1213.1M1499.35,1180.6V1209.2M1502.01,1182.6V1210.6M1504.67,1181.9V1211.8M1507.33,1184.9V1215.3M1509.99,1191.3V1220.5M1512.65,1195.3V1219.7M1515.31,1195.1V1222.8M1517.97,1199.7V1225.3M1520.63,1199.2V1231.6M1523.29,1202.5V1227.7M1525.95,1205.8V1222.8M1528.61,1195.3V1220.2M1531.27,1181.8V1219.7M1533.93,1180.5V1212.0M1536.59,1183.0V1203.1M1539.25,1185.2V1208.3M1541.91,1187.0V1208.8M1544.57,1191.2V1214.0M1547.23,1196.3V1221.5M1549.89,1203.0V1234.0M1552.55,1205.4V1240.9M1555.21,1210.2V1241.1M1557.87,1215.5V1240.8M1560.53,1215.9V1244.5M1563.19,1212.4V1241.4M1565.85,1204.1V1238.5M1568.51,1212.0V1240.6M1571.17,1218.8V1244.3M1573.83,1214.1V1250.4M1576.49,1212.5V1244.2M1579.15,1211.0V1241.8M1581.81,1201.9V1242.2M1584.47,1198.1V1239.2M1587.13,1205.7V1235.0M1589.79,1216.8V1237.0M1592.45,1218.7V1240.3M1595.11,1216.2V1246.1M1597.77,1214.6V1254.5M1600.43,1216.8V1247.0M1603.09,1213.4V1238.9M1605.75,1209.1V1241.0M1608.41,1214.8V1239.4M1611.07,1215.1V1241.1M1613.73,1220.9V1253.6M1616.39,1220.4V1263.3M1619.05,1223.7V1254.4M1621.71,1222.4V1243.6M1624.37,1222.8V1240.5M1627.03,1220.4V1238.1M1629.69,1208.0V1234.7M1632.35,1198.4V1238.3M1635.01,1206.5V1241.3M1637.67,1204.0V1237.7M1640.33,1210.6V1237.2M1642.99,1217.2V1239.1M1645.65,1217.5V1244.7M1648.31,1218.7V1249.7M1650.97,1218.7V1243.2M1653.63,1217.8V1244.8M1656.29,1210.5V1240.2M1658.95,1190.2V1234.9M1661.61,1178.9V1223.2M1664.27,1166.9V1207.6M1666.93,1177.0V1206.4M1669.59,1185.0V1216.6M1672.25,1185.1V1223.8M1674.91,1177.3V1216.4M1677.57,1180.2V1221.3M1680.23,1180.5V1211.4M1682.89,1178.8V1217.7M1685.55,1185.6V1232.4M1688.21,1193.2V1229.4M1690.87,1197.9V1230.3M1693.53,1201.5V1240.1M1696.19,1200.1V1244.1M1698.85,1204.7V1240.9M1701.51,1201.3V1235.2M1704.17,1200.7V1234.1M1706.83,1201.8V1241.2M1709.49,1208.2V1247.1M1712.15,1211.9V1240.6M1714.81,1210.6V1246.9M1717.47,1211.2V1239.2M1720.13,1209.5V1236.4M1722.79,1207.9V1232.3M1725.45,1203.9V1235.7M1728.11,1210.6V1237.1M1730.77,1208.7V1243.7M1733.43,1217.0V1251.6M1736.09,1215.3V1252.3M1738.75,1221.3V1252.1M1741.41,1225.1V1256.3M1744.07,1223.0V1258.4M1746.73,1219.8V1249.6M1749.39,1217.4V1243.0M1752.05,1212.6V1236.5M1754.71,1211.7V1235.9M1757.37,1211.2V1234.3M1760.03,1203.3V1232.9M1762.69,1202.8V1231.7M1765.35,1206.2V1232.8M1768.01,1206.1V1234.8M1770.67,1207.0V1228.7M1773.33,1204.5V1235.4M1775.99,1202.4V1243.6M1778.65,1201.7V1237.5M1781.31,1207.9V1234.5M1783.97,1210.9V1236.6M1786.63,1214.7V1239.4M1789.29,1214.6V1246.3M1791.95,1218.2V1248.4M1794.61,1214.0V1250.0M1797.27,1209.0V1256.9M1799.93,1208.1V1250.3M1802.59,1212.4V1242.9M1805.25,1210.7V1247.6M1807.91,1203.5V1240.9M1810.57,1209.8V1241.6M1813.23,1219.4V1241.0M1815.89,1217.9V1239.4M1818.55,1215.1V1236.8M1821.21,1211.3V1236.5M1823.87,1216.2V1240.7M1826.53,1212.9V1242.3M1829.19,1212.3V1241.0M1831.85,1210.2V1242.1M1834.51,1203.1V1248.0M1837.17,1210.9V1243.2M1839.83,1216.9V1239.0M1842.49,1218.7V1242.1M1845.15,1218.0V1244.7M1847.81,1212.6V1247.3M1850.47,1215.7V1241.7M1853.13,1212.4V1236.8M1855.79,1214.7V1234.2M1858.45,1211.1V1244.7M1861.11,1207.1V1251.6M1863.77,1207.6V1243.6M1866.43,1203.8V1238.0M1869.09,1209.9V1237.5M1871.75,1207.3V1234.6M1874.41,1206.7V1235.2M1877.07,1208.9V1237.6M1879.73,1212.5V1233.3M1882.39,1214.4V1234.8M1885.05,1212.8V1236.2M1887.71,1208.8V1241.8M1890.37,1207.2V1250.2M1893.03,1210.5V1240.7M1895.69,1211.2V1227.7M1898.35,1205.0V1229.8M1901.01,1198.2V1229.1M1903.67,1203.5V1226.0M1906.33,1198.2V1225.2M1908.99,1188.9V1228.5M1911.65,1196.6V1232.3M1914.31,1197.4V1226.9M1916.97,1201.6V1222.4M1919.63,1201.7V1224.3M1922.29,1202.3V1223.9M1924.95,1201.8V1228.8M1927.61,1196.9V1235.3M1930.27,1190.2V1227.3M1932.93,1195.3V1214.8M1935.59,1203.7V1215.3M1938.25,1200.5V1214.0M1940.91,1197.9V1214.8M1943.57,1197.0V1213.1M1946.23,1197.3V1212.8M1948.89,1193.7V1217.2M1951.55,1194.8V1220.5M1954.21,1189.2V1222.2M1956.87,1187.9V1218.9M1959.53,1186.5V1213.4M1962.19,1184.6V1214.0M1964.85,1190.9V1220.3M1967.51,1196.2V1228.9M1970.17,1195.9V1229.6M1972.83,1203.3V1225.7M1975.49,1206.0V1225.1M1978.15,1202.6V1228.8M1980.81,1203.5V1228.0M1983.47,1200.4V1223.4M1986.13,1194.9V1223.4M1988.79,1199.3V1220.1M1991.45,1199.8V1220.4M1994.11,1193.4V1223.2M1996.77,1185.4V1227.3M1999.43,1192.0V1221.6M2002.09,1193.4V1216.8M2004.75,1196.4V1220.6M2007.41,1191.5V1225.1M2010.07,1193.8V1227.4M2012.73,1193.3V1223.0M2015.39,1189.9V1225.0M2018.05,1193.2V1233.2M2020.71,1189.8V1224.0M2023.37,1191.1V1220.4M2026.03,1188.5V1227.4M2028.69,1197.2V1232.6M2031.35,1203.9V1231.1M2034.01,1206.3V1230.2M2036.67,1207.4V1225.9M2039.33,1209.2V1222.2M2041.99,1208.5V1220.6M2044.65,1205.5V1220.7M2047.31,1201.8V1222.5M2049.97,1200.2V1219.5M2052.63,1197.5V1221.0M2055.29,1193.6V1214.2M2057.95,1189.3V1207.9M2060.61,1181.7V1207.1M2063.27,1174.8V1206.0M2065.93,1177.2V1208.9M2068.59,1181.5V1218.9M2069.96,1187.0V1213.7"/>

<!-- labels -->
<text transform="translate(1548.3,381.7) scale(1,1.04)" font-size="67.8">FeKNCNT800</text>
<text transform="translate(1548.3,1092) scale(1,1.04)" font-size="67.9">FeKNGNF700</text>
<text transform="translate(307.6,712.8) scale(1,1.04)" font-size="68.2">Mo<tspan font-size="40" dy="22">2</tspan><tspan dy="-22">C [79-744]</tspan></text>
<text transform="translate(329.2,1403.8) scale(1,1.04)" font-size="68.2">Fe<tspan font-size="40" dy="22">5</tspan><tspan dy="-22">C</tspan><tspan font-size="40" dy="22">2</tspan><tspan dy="-22"> [20-508]</tspan></text>
<text transform="translate(331,1534.8) scale(1,1.04)" font-size="68.2">Fe<tspan font-size="40" dy="22">3</tspan><tspan dy="-22">C [72-1110]</tspan></text>
<text transform="translate(316.8,1658.2) scale(1,1.04)" font-size="68.2">Fe<tspan font-size="40" dy="22">3</tspan><tspan dy="-22">O</tspan><tspan font-size="40" dy="22">4</tspan><tspan dy="-22"> [72-2303]</tspan></text>

<text transform="translate(118.8,1299.5) rotate(-90) scale(1,1.02)" font-size="101.4">Intensity (a.u.)</text>
<text transform="translate(1144.2,1970.3) scale(1.1,1.04)" font-size="70">2</text>
<text class="ser" transform="translate(1187.5,1970.3) scale(1.17,1)" font-size="64.5">θ</text>
</g>
</svg>
</body>
</html>
